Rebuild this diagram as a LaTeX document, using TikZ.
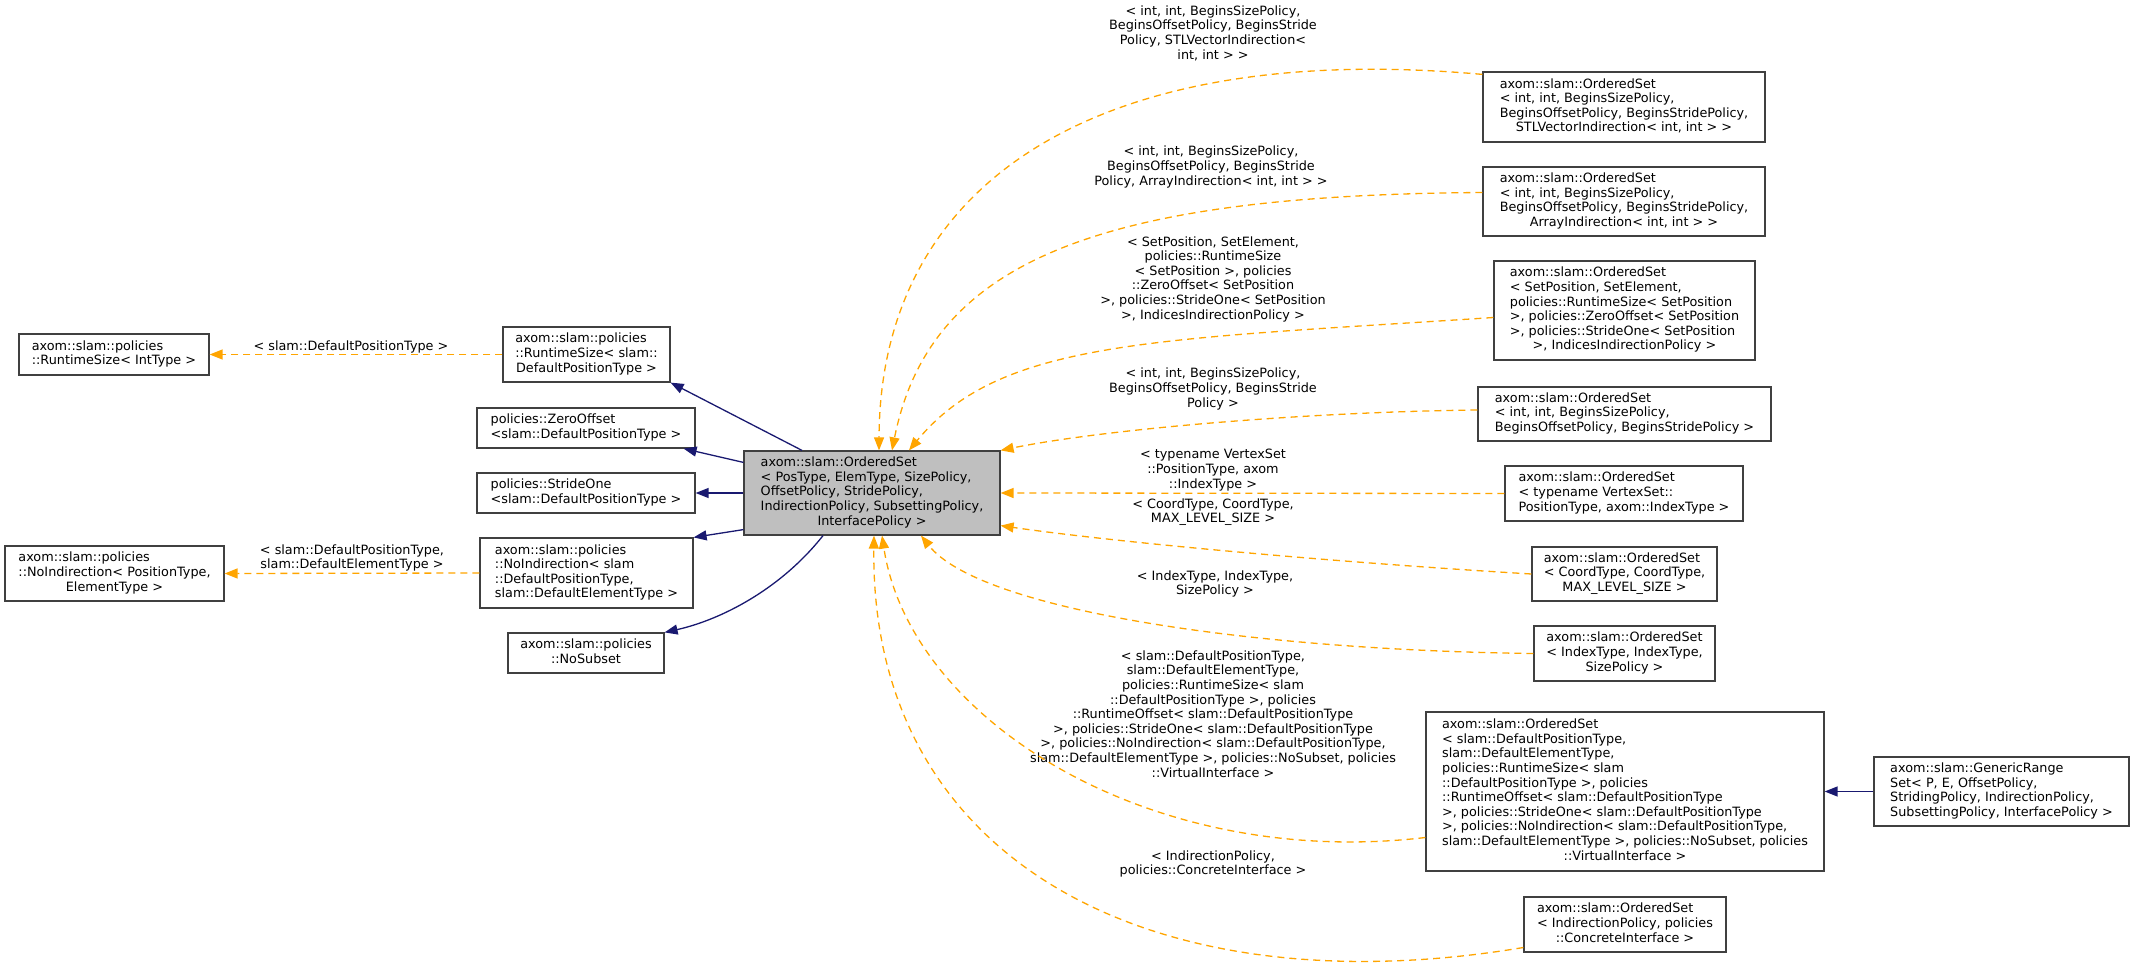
\documentclass[tikz,border=0pt]{standalone}
\usepackage{fontspec}
\setmainfont{DejaVu Sans}
\usetikzlibrary{arrows.meta}

\definecolor{inhcol}{HTML}{191970}
\definecolor{tplcol}{HTML}{FFA500}
\definecolor{boxgray}{HTML}{BFBFBF}

\newcommand{\lastrow}[1]{\multicolumn{1}{@{}c@{}}{#1}}

\tikzset{
  cls/.style={draw=black!75, line width=1.2bp, inner sep=0pt, align=left,
    font=\fontsize{12.8bp}{14.6bp}\selectfont},
  tpl/.style={inner sep=0pt, align=center, font=\fontsize{12.8bp}{14.6bp}\selectfont},
  inh/.style={line width=1.3bp, inhcol, -{Triangle[length=13bp,width=10bp]}},
  inst/.style={line width=1.3bp, tplcol, dash pattern=on 7bp off 5bp,
    -{Triangle[length=13bp,width=10bp]}},
}

\begin{document}
\begin{tikzpicture}[x=1bp, y=-1bp]
  \useasboundingbox (0,0) rectangle (2133,969);

  \node (rt)  at (114,354.5)  [cls, minimum width=190bp, minimum height=41bp] {\begin{tabular}{@{}l@{}}axom::slam::policies\\\lastrow{::RuntimeSize< IntType >}\end{tabular}};
  \node (rs)  at (586.5,354.5) [cls, minimum width=167bp, minimum height=55bp] {\begin{tabular}{@{}l@{}}axom::slam::policies\\::RuntimeSize< slam::\\\lastrow{DefaultPositionType >}\end{tabular}};
  \node (zo)  at (586,428)    [cls, minimum width=218bp, minimum height=40bp] {\begin{tabular}{@{}l@{}}policies::ZeroOffset\\\lastrow{<slam::DefaultPositionType >}\end{tabular}};
  \node (so)  at (586,493)    [cls, minimum width=218bp, minimum height=40bp] {\begin{tabular}{@{}l@{}}policies::StrideOne\\\lastrow{<slam::DefaultPositionType >}\end{tabular}};
  \node (ni)  at (586.5,573)  [cls, minimum width=213bp, minimum height=70bp] {\begin{tabular}{@{}l@{}}axom::slam::policies\\::NoIndirection< slam\\::DefaultPositionType,\\\lastrow{slam::DefaultElementType >}\end{tabular}};
  \node (nit) at (114.5,573.5) [cls, minimum width=219bp, minimum height=55bp] {\begin{tabular}{@{}l@{}}axom::slam::policies\\::NoIndirection< PositionType,\\\lastrow{ElementType >}\end{tabular}};
  \node (ns)  at (586,653)    [cls, minimum width=156bp, minimum height=40bp] {\begin{tabular}{@{}l@{}}axom::slam::policies\\\lastrow{::NoSubset}\end{tabular}};

  \node (main) at (872,493)   [cls, fill=boxgray, minimum width=256bp, minimum height=84bp] {\begin{tabular}{@{}l@{}}axom::slam::OrderedSet\\< PosType, ElemType, SizePolicy,\\ OffsetPolicy, StridePolicy,\\ IndirectionPolicy, SubsettingPolicy,\\\lastrow{InterfacePolicy >}\end{tabular}};

  \node (r1) at (1624,107)    [cls, minimum width=282bp, minimum height=70bp] {\begin{tabular}{@{}l@{}}axom::slam::OrderedSet\\< int, int, BeginsSizePolicy,\\ BeginsOffsetPolicy, BeginsStridePolicy,\\\lastrow{STLVectorIndirection< int, int > >}\end{tabular}};
  \node (r2) at (1624,201.5)  [cls, minimum width=282bp, minimum height=69bp] {\begin{tabular}{@{}l@{}}axom::slam::OrderedSet\\< int, int, BeginsSizePolicy,\\ BeginsOffsetPolicy, BeginsStridePolicy,\\\lastrow{ArrayIndirection< int, int > >}\end{tabular}};
  \node (r3) at (1624.5,310.5) [cls, minimum width=261bp, minimum height=99bp] {\begin{tabular}{@{}l@{}}axom::slam::OrderedSet\\< SetPosition, SetElement,\\ policies::RuntimeSize< SetPosition\\ >, policies::ZeroOffset< SetPosition\\ >, policies::StrideOne< SetPosition\\\lastrow{>, IndicesIndirectionPolicy >}\end{tabular}};
  \node (r4) at (1624.5,414)  [cls, minimum width=293bp, minimum height=54bp] {\begin{tabular}{@{}l@{}}axom::slam::OrderedSet\\< int, int, BeginsSizePolicy,\\\lastrow{BeginsOffsetPolicy, BeginsStridePolicy >}\end{tabular}};
  \node (r5) at (1624,493.5)  [cls, minimum width=238bp, minimum height=55bp] {\begin{tabular}{@{}l@{}}axom::slam::OrderedSet\\< typename VertexSet::\\PositionType, axom::IndexType >\end{tabular}};
  \node (r6) at (1624.5,574)  [cls, minimum width=185bp, minimum height=54bp] {\begin{tabular}{@{}l@{}}axom::slam::OrderedSet\\< CoordType, CoordType,\\\lastrow{MAX\_LEVEL\_SIZE >}\end{tabular}};
  \node (r7) at (1624.5,653.5) [cls, minimum width=181bp, minimum height=55bp] {\begin{tabular}{@{}l@{}}axom::slam::OrderedSet\\< IndexType, IndexType,\\\lastrow{SizePolicy >}\end{tabular}};
  \node (r8) at (1625,791.5)  [cls, minimum width=398bp, minimum height=159bp] {\begin{tabular}{@{}l@{}}axom::slam::OrderedSet\\< slam::DefaultPositionType,\\ slam::DefaultElementType,\\ policies::RuntimeSize< slam\\::DefaultPositionType >, policies\\::RuntimeOffset< slam::DefaultPositionType\\ >, policies::StrideOne< slam::DefaultPositionType\\ >, policies::NoIndirection< slam::DefaultPositionType,\\ slam::DefaultElementType >, policies::NoSubset, policies\\\lastrow{::VirtualInterface >}\end{tabular}};
  \node (r9) at (1625,924.5)  [cls, minimum width=202bp, minimum height=55bp] {\begin{tabular}{@{}l@{}}axom::slam::OrderedSet\\< IndirectionPolicy, policies\\\lastrow{::ConcreteInterface >}\end{tabular}};
  \node (gr) at (2001.5,791.5) [cls, minimum width=255bp, minimum height=69bp] {\begin{tabular}{@{}l@{}}axom::slam::GenericRange\\Set< P, E, OffsetPolicy,\\ StridingPolicy, IndirectionPolicy,\\ SubsettingPolicy, InterfacePolicy >\end{tabular}};

  % edge labels
  \node (lrt) at (351,347)   [tpl] {< slam::DefaultPositionType >};
  \node (lni) at (352,558)   [tpl] {< slam::DefaultPositionType,\\slam::DefaultElementType >};
  \node (l1) at (1213,33)    [tpl] {< int, int, BeginsSizePolicy,\\BeginsOffsetPolicy, BeginsStride\\Policy, STLVectorIndirection<\\int, int > >};
  \node (l2) at (1211,167)   [tpl] {< int, int, BeginsSizePolicy,\\BeginsOffsetPolicy, BeginsStride\\Policy, ArrayIndirection< int, int > >};
  \node (l3) at (1213,279)   [tpl] {< SetPosition, SetElement,\\policies::RuntimeSize\\< SetPosition >, policies\\::ZeroOffset< SetPosition\\>, policies::StrideOne< SetPosition\\>, IndicesIndirectionPolicy >};
  \node (l4) at (1213,389)   [tpl] {< int, int, BeginsSizePolicy,\\BeginsOffsetPolicy, BeginsStride\\Policy >};
  \node (l5) at (1213,470)   [tpl] {< typename VertexSet\\::PositionType, axom\\::IndexType >};
  \node (l6) at (1213,512)   [tpl] {< CoordType, CoordType,\\MAX\_LEVEL\_SIZE >};
  \node (l7) at (1215,584)   [tpl] {< IndexType, IndexType,\\SizePolicy >};
  \node (l8) at (1213,714)   [tpl] {< slam::DefaultPositionType,\\slam::DefaultElementType,\\policies::RuntimeSize< slam\\::DefaultPositionType >, policies\\::RuntimeOffset< slam::DefaultPositionType\\>, policies::StrideOne< slam::DefaultPositionType\\>, policies::NoIndirection< slam::DefaultPositionType,\\slam::DefaultElementType >, policies::NoSubset, policies\\::VirtualInterface >};
  \node (l9) at (1213,864)   [tpl] {< IndirectionPolicy,\\policies::ConcreteInterface >};

  % inheritance
  \draw ([xshift=-70bp]main.north) -- (rs.south east) [inh];
  \draw ([yshift=-12bp]main.north west) -- ([xshift=-12bp]zo.south east) [inh];
  \draw (main.west) -- (so.east) [inh];
  \draw ([yshift=6bp]main.south west) -- (ni.north east) [inh];
  \draw ([xshift=-49bp]main.south) .. controls (780,590) and (720,620) .. (ns.north east) [inh];
  \draw (gr.west) -- (r8.east) [inh];

  % template instances
  \draw (rs.west) -- (rt.east) [inst];
  \draw (ni.west) -- (nit.east) [inst];
  \draw ([yshift=-3bp]r1.north west) .. controls (1100,40) and (880,180) .. ([xshift=7bp]main.north) [inst];
  \draw ([yshift=9bp]r2.west) .. controls (1100,195) and (930,260) .. ([xshift=20bp]main.north) [inst];
  \draw ([yshift=-7bp]r3.west) .. controls (1150,340) and (1000,340) .. ([xshift=37bp]main.north) [inst];
  \draw ([yshift=4bp]r4.west) .. controls (1300,412) and (1100,430) .. (main.north east) [inst];
  \draw (r5.west) -- (main.east) [inst];
  \draw (r6.west) .. controls (1300,560) and (1100,540) .. ([yshift=10bp]main.south east) [inst];
  \draw (r7.west) .. controls (1250,650) and (980,610) .. ([xshift=49bp]main.south) [inst];
  \draw ([yshift=-46bp]r8.west) .. controls (1150,870) and (910,720) .. ([xshift=10bp]main.south) [inst];
  \draw ([yshift=-23bp]r9.west) .. controls (1150,1010) and (870,860) .. ([xshift=2bp]main.south) [inst];
\end{tikzpicture}
\end{document}
